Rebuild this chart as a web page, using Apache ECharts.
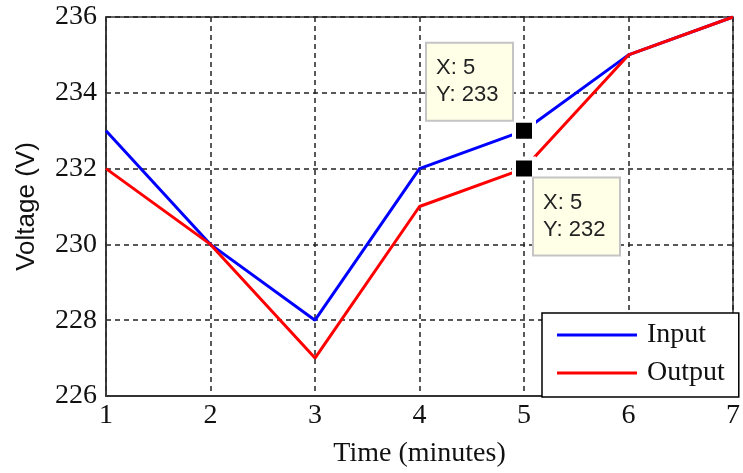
<!DOCTYPE html>
<html>
<head>
<meta charset="utf-8">
<script src="https://cdn.jsdelivr.net/npm/echarts@6/dist/echarts.min.js"></script>
<style>
html,body{margin:0;padding:0;background:#fff;}
#chart{width:743px;height:473px;}
</style>
</head>
<body>
<div id="chart"></div>
<script>
const times = [1, 2, 3, 4, 5, 6, 7];
const inputVoltage = [233, 230, 228, 232, 233, 235, 236];
const outputVoltage = [232, 230, 227, 231, 232, 235, 236];
const yTicks = [226, 228, 230, 232, 234, 236];
const datatipInput = [5, 233];
const datatipOutput = [5, 232];

const chart = echarts.init(document.getElementById('chart'));
const serif = '"Liberation Serif", "DejaVu Serif", serif';
const sans = '"Liberation Sans", Arial, sans-serif';

function tip(pt, pos) {
  return {
    coord: pt,
    symbol: 'rect',
    symbolSize: 20,
    itemStyle: { color: '#000', borderColor: '#fff', borderWidth: 4 },
    label: {
      show: true,
      position: pos,
      formatter: 'X: ' + pt[0] + '\nY: ' + pt[1],
      fontFamily: sans,
      fontSize: 22,
      lineHeight: 27,
      color: '#222',
      backgroundColor: '#ffffe8',
      borderColor: '#c4c4c4',
      borderWidth: 2,
      padding: [11, 10, 11, 9],
      width: 66,
      align: 'left'
    }
  };
}

chart.setOption({
  animation: false,
  grid: { left: 106, right: 3, top: 17, bottom: 75, show: true, borderColor: '#333', borderWidth: 1.5, backgroundColor: '#fff' },
  xAxis: {
    type: 'value', min: 1, max: 7, interval: 1,
    name: 'Time (minutes)', nameLocation: 'middle', nameGap: 44,
    nameTextStyle: { fontFamily: serif, fontSize: 28, color: '#111' },
    axisLine: { show: true, lineStyle: { color: '#333', width: 2 } },
    axisTick: { show: false },
    axisLabel: { fontFamily: serif, fontSize: 28, color: '#111', margin: 6,
      formatter: v => times.includes(v) ? String(v) : '' },
    splitLine: { show: true, lineStyle: { type: [5, 4], color: '#222', width: 1.5 } }
  },
  yAxis: {
    type: 'value', min: yTicks[0], max: yTicks[yTicks.length - 1], interval: 2,
    name: 'Voltage (V)', nameLocation: 'middle', nameGap: 66,
    nameTextStyle: { fontFamily: sans, fontSize: 26, color: '#111' },
    axisLine: { show: true, lineStyle: { color: '#333', width: 1.5 } },
    axisTick: { show: false },
    axisLabel: { fontFamily: serif, fontSize: 28, color: '#111', margin: 9 },
    splitLine: { show: true, lineStyle: { type: [5, 4], color: '#222', width: 1.5 } }
  },
  legend: {
    orient: 'vertical', left: 542, top: 313,
    padding: [8, 14, 10, 15], itemGap: 10,
    itemWidth: 80, itemHeight: 3,
    backgroundColor: '#fff', borderColor: '#000', borderWidth: 1.5,
    textStyle: { fontFamily: serif, fontSize: 28, color: '#111', padding: [0, 0, 0, 5] },
    data: [{ name: 'Input', icon: 'rect' }, { name: 'Output', icon: 'rect' }]
  },
  series: [
    {
      name: 'Input', type: 'line', showSymbol: false, symbol: 'none',
      data: times.map((t, i) => [t, inputVoltage[i]]),
      lineStyle: { color: '#0000ff', width: 3 }, itemStyle: { color: '#0000ff' },
      z: 2,
      markPoint: { data: [tip(datatipInput, [-85, -75])] }
    },
    {
      name: 'Output', type: 'line', showSymbol: false, symbol: 'none',
      data: times.map((t, i) => [t, outputVoltage[i]]),
      lineStyle: { color: '#ff0000', width: 3 }, itemStyle: { color: '#ff0000' },
      z: 3,
      markPoint: { data: [tip(datatipOutput, [22, 22])] }
    }
  ]
});
</script>
</body>
</html>
